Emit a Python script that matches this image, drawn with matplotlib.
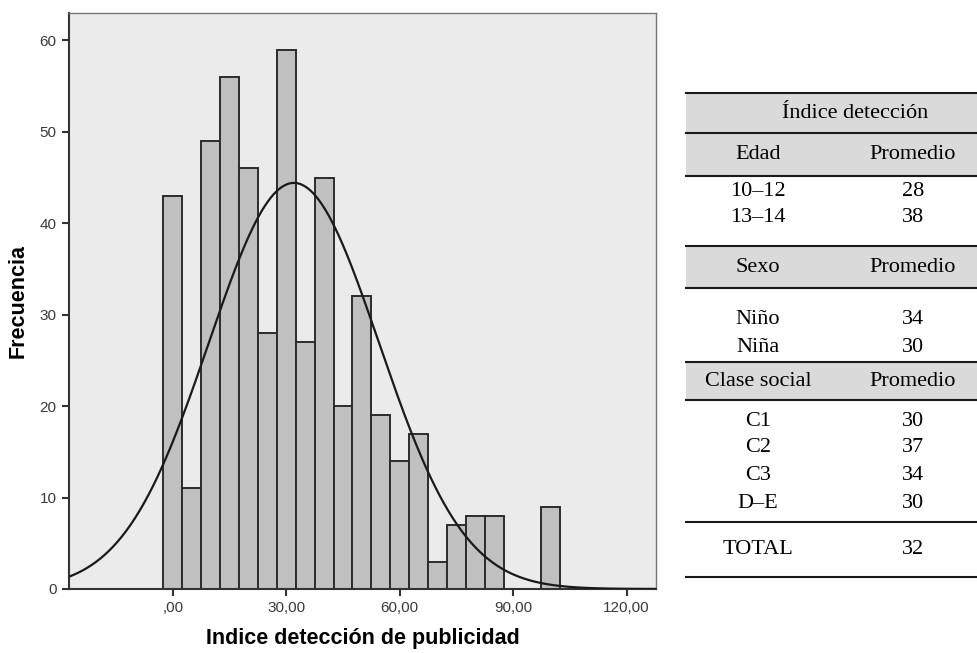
import numpy as np
import matplotlib
matplotlib.use('Agg')
import matplotlib.pyplot as plt

# histograma: centro de cada clase (ancho 5) y frecuencia
centros = [0, 5, 10, 15, 20, 25, 30, 35, 40, 45, 50, 55, 60, 65, 70, 75, 80, 85, 90, 95, 100]
frecuencias = [43, 11, 49, 56, 46, 28, 59, 27, 45, 20, 32, 19, 14, 17, 3, 7, 8, 8, 0, 0, 9]
ancho = 5
media = 32.0
desv = 22.5

x_ticks = [0, 30, 60, 90, 120]
x_ticklabels = [',00', '30,00', '60,00', '90,00', '120,00']
y_ticks = [0, 10, 20, 30, 40, 50, 60]

# tabla de promedios
titulo_tabla = 'Índice detección'
grupos = ['Edad', 'Sexo', 'Clase social']
categorias = [['10–12', '13–14'], ['Niño', 'Niña'], ['C1', 'C2', 'C3', 'D–E']]
promedios = [[28, 38], [34, 30], [30, 37, 34, 30]]
total = 32

fig = plt.figure(figsize=(9.78, 6.53), dpi=100)
fig.set_facecolor('white')
ax = fig.add_axes([69/978, 64/653, 587/978, 576/653])
ax.set_facecolor('#EBEBEB')

barras = [(c, f) for c, f in zip(centros, frecuencias) if f > 0]
ax.bar([b[0] for b in barras], [b[1] for b in barras], width=ancho,
       color='#C0C0C0', edgecolor='#2b2b2b', linewidth=1.4, zorder=2)

xs = np.linspace(-27.5, 127.8, 400)
n = sum(frecuencias)
curva = n * ancho / (desv * np.sqrt(2 * np.pi)) * np.exp(-0.5 * ((xs - media) / desv) ** 2)
ax.plot(xs, curva, color='#1a1a1a', linewidth=1.6, zorder=3)

ax.set_xlim(-27.5, 127.8)
ax.set_ylim(0, 63)
ax.set_xticks(x_ticks)
ax.set_xticklabels(x_ticklabels)
ax.set_yticks(y_ticks)
ax.tick_params(direction='out', length=5, width=1.5, colors='#333333',
               labelsize=11, labelcolor='#3a3a3a', pad=4)
for lab in ax.get_xticklabels() + ax.get_yticklabels():
    lab.set_family('Liberation Sans')
for s in ['left', 'bottom']:
    ax.spines[s].set_color('#333333')
    ax.spines[s].set_linewidth(1.5)
for s in ['top', 'right']:
    ax.spines[s].set_color('#777777')
    ax.spines[s].set_linewidth(1.0)

ax.set_xlabel('Indice detección de publicidad', fontsize=15.5, fontweight='bold',
              family='Liberation Sans', labelpad=9)
ax.set_ylabel('Frecuencia', fontsize=15.5, fontweight='bold',
              family='Liberation Sans', labelpad=8)

# tabla dibujada en coordenadas de pixel
tab = fig.add_axes([0, 0, 1, 1])
tab.set_xlim(0, 978)
tab.set_ylim(653, 0)
tab.axis('off')
tab.patch.set_alpha(0)

x0, x1 = 686, 978
c1, c2 = 758, 913
gris = '#DADADA'
fs = 16
fam = 'Liberation Serif'

def banda(y_a, y_b):
    tab.fill_between([x0, x1], y_a, y_b, color=gris, lw=0)

def linea(y):
    tab.plot([x0, x1], [y, y], color='#1a1a1a', lw=1.5)

banda(93, 133)
banda(133, 176)
linea(93)
linea(133)
linea(176)
tab.text(855, 113, titulo_tabla, ha='center', va='center', fontsize=fs, family=fam)

bloques = [(133, 176, [192, 218]), (246, 288, [320, 347]), (362, 400, [421, 448, 475, 503])]
for (ya, yb, ys), g, cats, vals in zip(bloques, grupos, categorias, promedios):
    if ya != 133:
        banda(ya, yb)
        linea(ya)
        linea(yb)
    tab.text(c1, (ya + yb) / 2, g, ha='center', va='center', fontsize=fs, family=fam)
    tab.text(c2, (ya + yb) / 2, 'Promedio', ha='center', va='center', fontsize=fs, family=fam)
    for y, cat, v in zip(ys, cats, vals):
        tab.text(c1, y, cat, ha='center', va='center', fontsize=fs, family=fam)
        tab.text(c2, y, str(v), ha='center', va='center', fontsize=fs, family=fam)

linea(522)
tab.text(c1, 550, 'TOTAL', ha='center', va='center', fontsize=fs, family=fam)
tab.text(c2, 550, str(total), ha='center', va='center', fontsize=fs, family=fam)
linea(577)

fig.savefig('out.png', dpi=100)
